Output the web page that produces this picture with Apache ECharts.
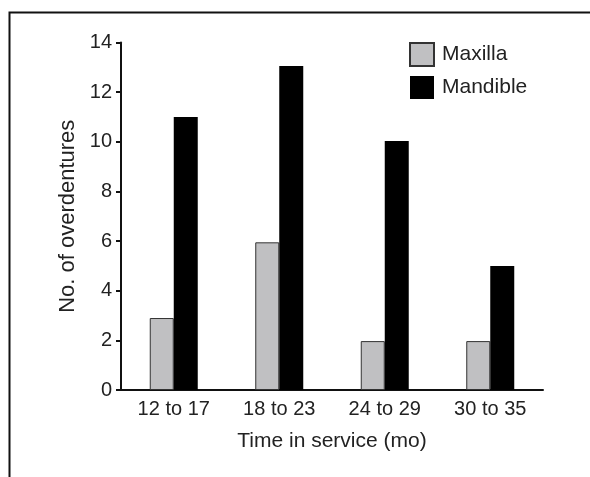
<!DOCTYPE html>
<html>
<head>
<meta charset="utf-8">
<script src="https://cdn.jsdelivr.net/npm/echarts@6/dist/echarts.min.js"></script>
<style>html,body{margin:0;padding:0;background:#fff}#c{width:590px;height:477px}</style>
</head>
<body>
<div id="c"></div>
<script>
const categories = ['12 to 17', '18 to 23', '24 to 29', '30 to 35'];
const maxilla = [2.9, 5.95, 1.97, 1.97];
const mandible = [11, 13.05, 10.03, 5];
const yTicks = [0, 2, 4, 6, 8, 10, 12, 14];
const seriesNames = ['Maxilla', 'Mandible'];
const xTitle = 'Time in service (mo)';
const yTitle = 'No. of overdentures';

const FONT = '"Liberation Sans", Arial, Helvetica, sans-serif';
const chart = echarts.init(document.getElementById('c'), null, {renderer: 'canvas'});
chart.setOption({
  animation: false,
  backgroundColor: '#fff',
  textStyle: {fontFamily: FONT},
  graphic: [{
    type: 'polyline', silent: true,
    shape: {points: [[9.5, 477], [9.5, 12.5], [590, 12.5]]},
    style: {stroke: '#111', lineWidth: 2, fill: null}
  }],
  legend: {
    orient: 'vertical', left: 404, top: 37,
    itemWidth: 24, itemHeight: 23, itemGap: 9, icon: 'rect',
    textStyle: {fontSize: 21, color: '#222', fontFamily: FONT, padding: [0, 0, 0, 3]},
    data: seriesNames
  },
  grid: {left: 121, right: 47, top: 42.5, bottom: 87, containLabel: false},
  xAxis: {
    type: 'category', data: categories,
    axisLine: {lineStyle: {color: '#111', width: 2}},
    axisTick: {alignWithLabel: true, length: 5, lineStyle: {color: '#111', width: 2}},
    axisLabel: {fontSize: 20, color: '#222', margin: 9, fontFamily: FONT},
    name: xTitle, nameLocation: 'middle', nameGap: 41,
    nameTextStyle: {fontSize: 21, color: '#222', fontFamily: FONT}
  },
  yAxis: {
    type: 'value', min: yTicks[0], max: yTicks[yTicks.length - 1], interval: 2,
    splitLine: {show: false},
    axisLine: {show: true, lineStyle: {color: '#111', width: 2}},
    axisTick: {show: true, length: 5, lineStyle: {color: '#111', width: 2}},
    axisLabel: {fontSize: 20, color: '#222', margin: 9, fontFamily: FONT},
    name: yTitle, nameLocation: 'middle', nameGap: 39, nameRotate: 90,
    nameTextStyle: {fontSize: 22, color: '#222', fontFamily: FONT}
  },
  series: [
    {name: seriesNames[0], type: 'bar', data: maxilla, barWidth: 24, barGap: '0%',
     itemStyle: {color: '#c0c0c2', borderColor: '#333', borderWidth: 1}},
    {name: seriesNames[1], type: 'bar', data: mandible, barWidth: 24, barGap: '0%',
     itemStyle: {color: '#000'}}
  ]
});
</script>
</body>
</html>
